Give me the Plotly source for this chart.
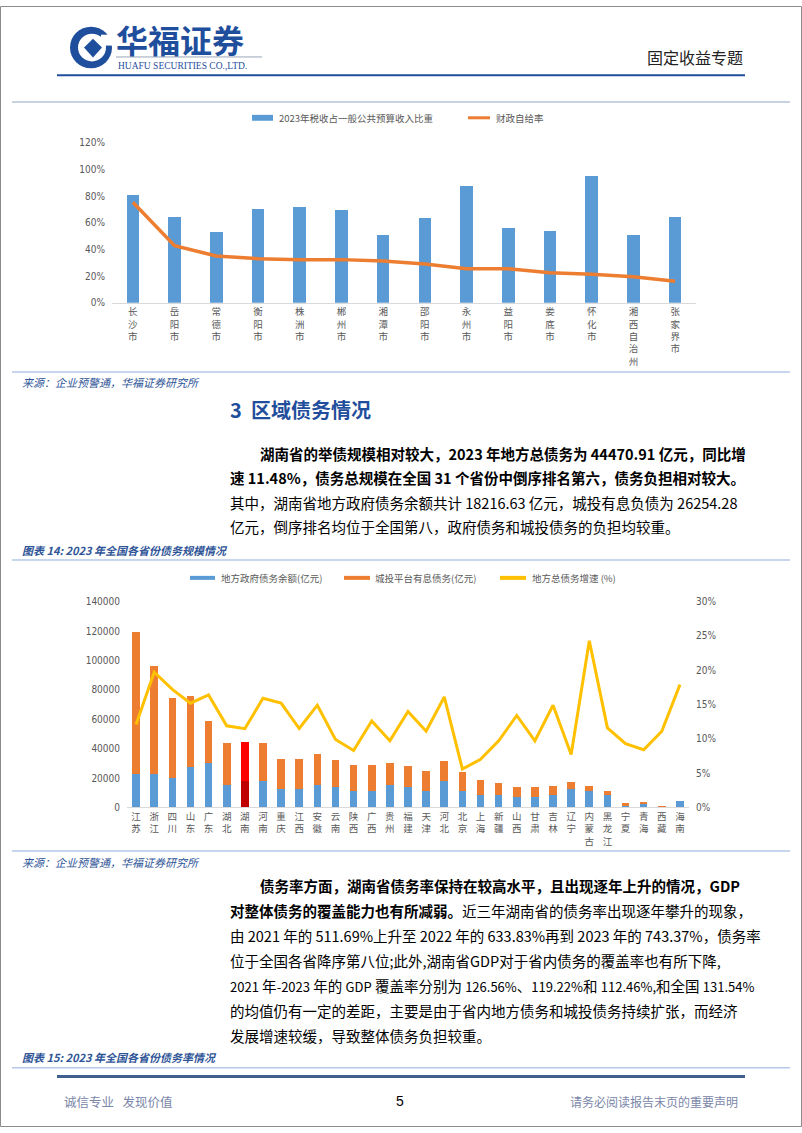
import plotly.graph_objects as go

W, H = 802, 1133


def px(x):
    return x / W


def py(y):
    return 1 - y / H


# ---------------- data: chart 1 ----------------
cities = ['长沙市', '岳阳市', '常德市', '衡阳市', '株洲市', '郴州市', '湘潭市',
          '邵阳市', '永州市', '益阳市', '娄底市', '怀化市', '湘西自治州', '张家界市']
tax_share = [0.811, 0.643, 0.529, 0.707, 0.717, 0.698, 0.510,
             0.636, 0.876, 0.564, 0.537, 0.950, 0.507, 0.641]
self_sufficiency = [0.754, 0.428, 0.351, 0.331, 0.324, 0.324, 0.314,
                    0.292, 0.255, 0.255, 0.225, 0.215, 0.195, 0.161]
c1_yticks = [0, 0.2, 0.4, 0.6, 0.8, 1.0, 1.2]

# ---------------- data: chart 2 ----------------
provinces = ['江苏', '浙江', '四川', '山东', '广东', '湖北', '湖南', '河南', '重庆', '江西',
             '安徽', '云南', '陕西', '广西', '贵州', '福建', '天津', '河北', '北京', '上海',
             '新疆', '山西', '甘肃', '吉林', '辽宁', '内蒙古', '黑龙江', '宁夏', '青海', '西藏', '海南']
gov_debt = [23030, 23030, 20320, 27320, 30030, 15350, 18216.63, 17840, 12640, 12640,
            15350, 14230, 10840, 11060, 15350, 13770, 10840, 18290, 10840, 8580,
            8580, 6770, 6770, 8350, 12640, 10840, 8350, 1810, 3160, 600, 4060]
lgfv_debt = [95970, 73390, 53970, 48330, 28680, 28680, 26254.28, 26190, 20550, 20550,
             20780, 18060, 17840, 17840, 14910, 14460, 13770, 13100, 13320, 10390,
             8130, 7000, 7000, 6330, 4970, 3840, 2710, 1130, 680, 530, 0]
debt_growth = [0.121, 0.197, 0.172, 0.152, 0.164, 0.119, 0.1148, 0.159, 0.152, 0.115,
               0.149, 0.099, 0.083, 0.126, 0.097, 0.140, 0.111, 0.161, 0.056, 0.070,
               0.097, 0.134, 0.097, 0.149, 0.077, 0.243, 0.116, 0.093, 0.084, 0.111, 0.179]
highlight = '湖南'
c2_left_ticks = [0, 20000, 40000, 60000, 80000, 100000, 120000, 140000]
c2_right_ticks = [0, 0.05, 0.10, 0.15, 0.20, 0.25, 0.30]

BLUE = '#5B9BD5'
ORANGE = '#ED7D31'
YELLOW = '#FFC000'
GRAY = '#595959'
NUM_FONT = 'Liberation Sans Narrow, DejaVu Sans Condensed, Liberation Sans, sans-serif'
CJK = 'Noto Sans CJK SC'

gov_colors = ['#C00000' if p == highlight else BLUE for p in provinces]
lgfv_colors = ['#FF0000' if p == highlight else ORANGE for p in provinces]

fig = go.Figure()

# chart 1
fig.add_trace(go.Bar(x=cities, y=tax_share, marker=dict(color=BLUE, line=dict(width=0)),
                     width=0.30, xaxis='x', yaxis='y', showlegend=False,
                     name='2023年税收占一般公共预算收入比重'))
fig.add_trace(go.Scatter(x=cities, y=self_sufficiency, mode='lines',
                         line=dict(color=ORANGE, width=3.5), xaxis='x', yaxis='y',
                         showlegend=False, name='财政自给率'))

# chart 2
fig.add_trace(go.Bar(x=provinces, y=gov_debt, marker=dict(color=gov_colors, line=dict(width=0)),
                     width=0.42, xaxis='x2', yaxis='y2', showlegend=False,
                     name='地方政府债务余额(亿元)'))
fig.add_trace(go.Bar(x=provinces, y=lgfv_debt, marker=dict(color=lgfv_colors, line=dict(width=0)),
                     width=0.42, xaxis='x2', yaxis='y2', showlegend=False,
                     name='城投平台有息债务(亿元)'))
fig.add_trace(go.Scatter(x=provinces, y=debt_growth, mode='lines',
                         line=dict(color=YELLOW, width=3), xaxis='x2', yaxis='y3',
                         showlegend=False, name='地方总债务增速 (%)'))

tick_font_cat = dict(family=CJK, size=9.5, color=GRAY)
tick_font_num = dict(family=NUM_FONT, size=10, color=GRAY)

fig.update_layout(
    width=W, height=H, autosize=False,
    margin=dict(l=0, r=0, t=0, b=0),
    paper_bgcolor='white', plot_bgcolor='white',
    barmode='stack',
    xaxis=dict(domain=[px(112), px(696)], anchor='y', type='category',
               range=[-0.5, len(cities) - 0.5],
               tickvals=cities, ticktext=['<br>'.join(c) for c in cities],
               tickfont=tick_font_cat, showline=True, linecolor='#D9D9D9', linewidth=1,
               showgrid=False, ticks='', tickangle=0, fixedrange=True),
    yaxis=dict(domain=[py(300), py(138.3)], anchor='x', range=[0, 1.2],
               tickvals=c1_yticks, tickformat='.0%', tickfont=tick_font_num,
               showgrid=False, zeroline=False, showline=False, ticks='',
               ticklabelstandoff=6, fixedrange=True),
    xaxis2=dict(domain=[px(127), px(689)], anchor='y2', type='category',
                range=[-0.5, len(provinces) - 0.5],
                tickvals=provinces, ticktext=['<br>'.join(p) for p in provinces],
                tickfont=tick_font_cat, showline=True, linecolor='#D9D9D9', linewidth=1,
                showgrid=False, ticks='', tickangle=0, fixedrange=True),
    yaxis2=dict(domain=[py(810), py(602)], anchor='x2', range=[0, 140000],
                tickvals=c2_left_ticks, tickformat='d', tickfont=tick_font_num,
                showgrid=False, zeroline=False, showline=False, ticks='',
                ticklabelstandoff=6, fixedrange=True),
    yaxis3=dict(domain=[py(810), py(602)], anchor='x2', overlaying='y2', side='right',
                range=[0, 0.30], tickvals=c2_right_ticks, tickformat='.0%',
                tickfont=tick_font_num, showgrid=False, zeroline=False, showline=False,
                ticks='', ticklabelstandoff=6, fixedrange=True),
)

shapes = []
annots = []


def hline(y, x0, x1, color, width):
    shapes.append(dict(type='line', xref='paper', yref='paper', x0=px(x0), x1=px(x1),
                       y0=py(y), y1=py(y), line=dict(color=color, width=width)))


def txt(x, y, s, size, color='#000000', family=CJK, anchor='left'):
    annots.append(dict(xref='paper', yref='paper', x=px(x), y=py(y), text=s,
                       showarrow=False, xanchor=anchor, yanchor='middle',
                       font=dict(family=family, size=size, color=color)))


def small(s, size=13):
    return f'<span style="font-size:{size}px">{s}</span>'


# page frame
shapes.append(dict(type='rect', xref='paper', yref='paper', x0=px(0.5), x1=px(801.5),
                   y0=py(1132.5), y1=py(0.5), line=dict(color='#8C8C8C', width=1)))

# header logo
LOGO = '#1E4E9C'
shapes.append(dict(type='circle', xref='paper', yref='paper', x0=px(70), x1=px(112),
                   y0=py(63), y1=py(21), fillcolor=LOGO, line=dict(width=0)))
shapes.append(dict(type='circle', xref='paper', yref='paper', x0=px(78), x1=px(106),
                   y0=py(56), y1=py(28), fillcolor='white', line=dict(width=0)))
shapes.append(dict(type='path', xref='paper', yref='paper',
                   path=f'M {px(93)},{py(33)} L {px(102)},{py(42)} L {px(93)},{py(52)} L {px(84)},{py(42)} Z',
                   fillcolor=LOGO, line=dict(width=0)))
shapes.append(dict(type='rect', xref='paper', yref='paper', x0=px(101), x1=px(112),
                   y0=py(40), y1=py(29), fillcolor='white', line=dict(width=0)))
txt(114, 33, '<b>华福证券</b>', 32, LOGO)
hline(51.5, 116, 262, '#9AA5B8', 1)
txt(116, 61, 'HUAFU SECURITIES CO.,LTD.', 9.5, LOGO,
    family='Liberation Serif, DejaVu Serif, serif')
txt(745, 52, '固定收益专题', 16, '#222222', anchor='right')
hline(70, 57, 745, '#1F4E9C', 2)
hline(97, 12, 790, '#B4C3DA', 1.5)

# chart 1 legend
shapes.append(dict(type='rect', xref='paper', yref='paper', x0=px(252), x1=px(273),
                   y0=py(116), y1=py(110), fillcolor=BLUE, line=dict(width=0)))
txt(277, 113, '2023年税收占一般公共预算收入比重', 9.5, GRAY)
hline(113, 468, 490, ORANGE, 3)
txt(494, 113, '财政自给率', 9.5, GRAY)

hline(370, 12, 790, '#B4C7E7', 1.5)
SRC = '#2F5597'
txt(20, 380, '<i>来源：企业预警通，华福证券研究所</i>', 11, SRC)

txt(228, 408, '<b>3  区域债务情况</b>', 20, '#1F4E9C')

BODY = 14.5
p1 = [
    (258, '<b>湖南省的举债规模相对较大，2023 年地方总债务为 44470.91 亿元，同比增</b>'),
    (228, '<b>速 11.48%，债务总规模在全国 31 个省份中倒序排名第六，债务负担相对较大。</b>'),
    (228, '其中，湖南省地方政府债务余额共计 18216.63 亿元，城投有息负债为 26254.28'),
    (228, '亿元，倒序排名均位于全国第八，政府债务和城投债务的负担均较重。'),
]
for i, (x0, line) in enumerate(p1):
    txt(x0, 452 + 24.7 * i, line, BODY)

txt(20, 550, '<b><i>图表 14: 2023 年全国各省份债务规模情况</i></b>', 11, SRC)
hline(560, 12, 790, '#B4C7E7', 1.5)

# chart 2 legend
hline(578, 190, 215, BLUE, 4)
txt(219, 578, '地方政府债务余额(亿元)', 9.5, GRAY)
hline(578, 344, 370, ORANGE, 4)
txt(373, 578, '城投平台有息债务(亿元)', 9.5, GRAY)
hline(578, 500, 526, YELLOW, 4)
txt(530, 578, '地方总债务增速 (%)', 9.5, GRAY)

hline(854, 12, 790, '#B4C7E7', 1.5)
txt(20, 865, '<i>来源：企业预警通，华福证券研究所</i>', 11, SRC)

p2 = [
    (258, '<b>债务率方面，湖南省债务率保持在较高水平，且出现逐年上升的情况，GDP</b>'),
    (228, '<b>对整体债务的覆盖能力也有所减弱。</b>近三年湖南省的债务率出现逐年攀升的现象，'),
    (228, '由 2021 年的 511.69%上升至 2022 年的 633.83%再到 2023 年的 743.37%，债务率'),
    (228, '位于全国各省降序第八位;此外,湖南省GDP对于省内债务的覆盖率也有所下降,'),
    (228, small('2021') + ' 年' + small('-2023') + ' 年的 ' + small('GDP') + ' 覆盖率分别为 '
     + small('126.56%') + '、' + small('119.22%') + '和 ' + small('112.46%,') + '和全国 '
     + small('131.54%')),
    (228, '的均值仍有一定的差距，主要是由于省内地方债务和城投债务持续扩张，而经济'),
    (228, '发展增速较缓，导致整体债务负担较重。'),
]
for i, (x0, line) in enumerate(p2):
    txt(x0, 889 + 25.2 * i, line, BODY)

txt(20, 1062, '<b><i>图表 15: 2023 年全国各省份债务率情况</i></b>', 11, SRC)
hline(1073, 12, 790, '#B4C7E7', 1.5)

# footer
hline(1082, 57, 745, '#3F5F8F', 3)
txt(62, 1107, '诚信专业&nbsp;&nbsp;&nbsp;发现价值', 12.5, '#7A86A8')
txt(400, 1107, '5', 14, '#000000', family='Liberation Sans, sans-serif', anchor='center')
txt(740, 1107, '请务必阅读报告末页的重要声明', 12, '#7A86A8', anchor='right')

fig.update_layout(shapes=shapes, annotations=annots)
fig.write_html('out.html', config={'displayModeBar': False})
